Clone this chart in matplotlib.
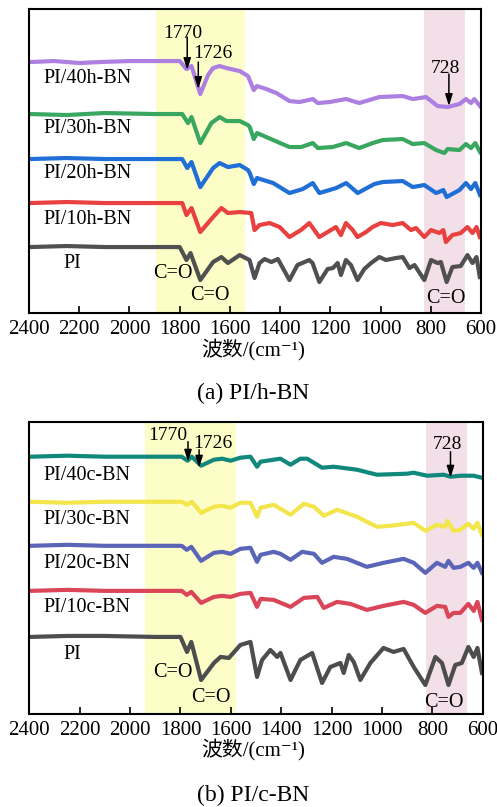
import matplotlib
matplotlib.use("Agg")
import matplotlib.pyplot as plt

plt.rcParams['font.family'] = ['Liberation Serif', 'Noto Sans CJK SC', 'DejaVu Serif']

# ---- spectra, panel (a) PI/h-BN (wavenumber, transmittance a.u.) ----
h40_wn = [2396, 2300, 2200, 2118, 2000, 1919, 1800, 1773, 1753, 1718, 1687, 1667, 1641, 1614, 1561, 1528, 1505,
          1492, 1455, 1415, 1363, 1323, 1270, 1250, 1204, 1137, 1085, 1005, 912, 872, 819, 773, 733, 686, 660,
          640, 627, 604]
h40_val = [251, 252, 250, 251, 252, 252, 252, 244, 247, 219, 238, 245, 247, 245, 242, 237, 223,
           227, 224, 220, 212, 211, 214, 210, 211, 214, 210, 216, 217, 214, 216, 207, 206, 209, 214,
           210, 214, 207]

h30_wn = [2396, 2250, 2100, 1900, 1790, 1767, 1753, 1718, 1674, 1641, 1614, 1561, 1528, 1521, 1505, 1492, 1428,
          1363, 1316, 1270, 1250, 1191, 1137, 1085, 1031, 992, 912, 872, 826, 779, 746, 733, 686, 660, 640, 623,
          604]
h30_val = [199, 198, 200, 199, 199, 190, 196, 170, 190, 196, 192, 192, 188, 186, 174, 180, 173,
           166, 166, 170, 165, 166, 170, 165, 170, 173, 174, 169, 170, 163, 160, 164, 163, 169, 165, 170,
           161]

h20_wn = [2396, 2250, 2100, 1900, 1790, 1770, 1753, 1718, 1667, 1641, 1608, 1561, 1528, 1521, 1505, 1492, 1428,
          1363, 1310, 1270, 1244, 1177, 1137, 1091, 1025, 992, 912, 872, 826, 779, 750, 737, 686, 660, 640, 623,
          604]
h20_val = [154, 155, 154, 154, 154, 145, 151, 126, 145, 150, 146, 148, 143, 140, 129, 135, 130,
           120, 124, 130, 120, 125, 130, 120, 129, 131, 132, 126, 128, 120, 123, 116, 123, 130, 124, 130,
           118]

h10_wn = [2396, 2250, 2100, 1900, 1790, 1773, 1753, 1718, 1667, 1634, 1608, 1561, 1515, 1502, 1482, 1442, 1402,
          1363, 1317, 1284, 1244, 1211, 1178, 1158, 1138, 1111, 1092, 1058, 1032, 999, 952, 912, 879, 859, 826,
          799, 766, 750, 740, 714, 681, 654, 634, 618, 605]
h10_val = [110, 111, 110, 110, 110, 98, 105, 81, 96, 105, 100, 101, 100, 83, 88, 90, 86,
           76, 83, 90, 76, 81, 86, 78, 90, 83, 76, 81, 86, 90, 88, 90, 83, 85, 76,
           83, 80, 83, 71, 78, 80, 86, 80, 86, 76]

pi_a_wn = [2396, 2250, 2100, 1900, 1800, 1773, 1757, 1718, 1667, 1634, 1608, 1561, 1522, 1502, 1482, 1462, 1435,
           1409, 1363, 1331, 1284, 1271, 1244, 1211, 1190, 1171, 1158, 1138, 1118, 1092, 1065, 1038, 1005, 979,
           939, 912, 885, 865, 826, 799, 773, 760, 737, 714, 681, 654, 634, 618, 605]
pi_a_val = [66, 67, 66, 66, 66, 53, 60, 33, 51, 56, 50, 58, 53, 35, 50, 54, 51,
            54, 33, 48, 53, 50, 31, 44, 45, 50, 38, 53, 48, 33, 44, 50, 56, 53,
            55, 56, 45, 48, 33, 53, 50, 51, 31, 46, 47, 58, 50, 56, 36]

# ---- spectra, panel (b) PI/c-BN ----
c40_wn = [2396, 2250, 2100, 1900, 1795, 1772, 1755, 1718, 1667, 1634, 1601, 1562, 1522, 1496, 1482, 1430, 1403,
          1363, 1324, 1297, 1238, 1192, 1099, 1020, 901, 874, 821, 755, 728, 689, 636, 603]
c40_val = [257, 258, 257, 257, 257, 253, 257, 248, 254, 255, 253, 256, 257, 247, 252, 254, 255,
           249, 255, 255, 246, 247, 244, 239, 240, 241, 238, 239, 237, 238, 238, 236]

c30_wn = [2396, 2250, 2100, 1900, 1795, 1774, 1755, 1718, 1667, 1634, 1601, 1562, 1522, 1496, 1482, 1430, 1363,
          1310, 1270, 1231, 1178, 1099, 1020, 967, 901, 874, 828, 782, 749, 740, 716, 689, 657, 636, 621, 603]
c30_val = [212, 211, 212, 212, 212, 209, 212, 201, 207, 208, 206, 211, 211, 197, 206, 209, 199,
           210, 207, 198, 204, 197, 187, 188, 190, 191, 183, 189, 187, 193, 183, 184, 190, 185, 191, 179]

c20_wn = [2396, 2250, 2100, 1900, 1795, 1775, 1757, 1718, 1667, 1634, 1601, 1562, 1522, 1496, 1482, 1430, 1403,
          1363, 1317, 1270, 1238, 1192, 1139, 1060, 994, 914, 874, 828, 782, 749, 736, 716, 689, 657, 636, 621,
          603]
c20_val = [168, 169, 168, 168, 168, 164, 167, 153, 161, 162, 160, 165, 166, 152, 159, 162, 160,
           154, 162, 160, 151, 157, 155, 147, 151, 155, 151, 141, 151, 147, 153, 146, 147, 151, 146, 151,
           141]

c10_wn = [2396, 2250, 2100, 1900, 1795, 1775, 1757, 1718, 1667, 1634, 1601, 1562, 1522, 1496, 1482, 1430, 1363,
          1310, 1257, 1231, 1178, 1125, 1060, 994, 914, 874, 828, 782, 749, 736, 716, 689, 657, 636, 621, 603]
c10_val = [123, 124, 123, 123, 123, 119, 122, 111, 117, 118, 117, 120, 121, 107, 115, 114, 107,
           116, 117, 106, 112, 110, 104, 108, 112, 109, 101, 108, 107, 97, 101, 101, 110, 103, 112, 94]

pi_b_wn = [2396, 2250, 2100, 1900, 1800, 1774, 1757, 1718, 1667, 1641, 1608, 1562, 1522, 1496, 1476, 1443, 1416,
           1403, 1363, 1324, 1277, 1238, 1205, 1165, 1152, 1132, 1112, 1086, 1046, 994, 954, 914, 874, 828, 788,
           762, 736, 709, 683, 657, 636, 621, 603]
pi_b_val = [77, 78, 78, 77, 77, 62, 72, 34, 51, 57, 56, 69, 72, 37, 54, 64, 57,
            61, 34, 54, 61, 31, 47, 51, 41, 59, 52, 34, 51, 66, 62, 65, 47, 29, 57,
            51, 29, 49, 51, 67, 57, 66, 41]

# sample names (text position: wavenumber, height)
names_a = ['PI/40h-BN', 'PI/30h-BN', 'PI/20h-BN', 'PI/10h-BN', 'PI']
names_a_pos = [(2344, 235), (2344, 185), (2344, 140), (2344, 94), (2264, 50)]
names_b = ['PI/40c-BN', 'PI/30c-BN', 'PI/20c-BN', 'PI/10c-BN', 'PI']
names_b_pos = [(2344, 238), (2344, 194), (2344, 150), (2344, 106), (2264, 59)]

peaks = [1770, 1726, 728]
yellow_a = (1895, 1540)
yellow_b = (1941, 1580)
pink_band = (826, 663)
xticks = [2400, 2200, 2000, 1800, 1600, 1400, 1200, 1000, 800, 600]

fig = plt.figure(figsize=(4.97, 8.07), dpi=100)
ax1 = fig.add_axes([0.0584, 0.6121, 0.9095, 0.3767])
ax2 = fig.add_axes([0.0590, 0.1152, 0.9123, 0.3623])


def style_axis(ax, ymax):
    ax.set_xlim(2400, 600)
    ax.set_ylim(0, ymax)
    ax.set_xticks(xticks)
    ax.tick_params(axis='x', direction='in', length=5, width=1.2, labelsize=15, pad=5)
    ax.tick_params(axis='y', left=False, labelleft=False)
    for sp in ax.spines.values():
        sp.set_linewidth(1.5)


def arrow(ax, x, tail, tip):
    ax.annotate('', xy=(x, tip), xytext=(x, tail),
                arrowprops=dict(arrowstyle='-|>,head_length=0.7,head_width=0.22',
                                color='black', lw=1.1, shrinkA=0, shrinkB=0))


# panel (a)
ax1.axvspan(*yellow_a, color='#fdfdc8', lw=0)
ax1.axvspan(*pink_band, color='#f3dfe7', lw=0)
ax1.plot(pi_a_wn, pi_a_val, color='#505050', lw=3)
ax1.plot(h10_wn, h10_val, color='#e8413f', lw=3)
ax1.plot(h20_wn, h20_val, color='#1f6fd6', lw=3)
ax1.plot(h30_wn, h30_val, color='#3aa760', lw=3)
ax1.plot(h40_wn, h40_val, color='#ad7fe0', lw=3)
style_axis(ax1, 304)
for name, (x, y) in zip(names_a, names_a_pos):
    ax1.text(x, y, name, fontsize=14.5, ha='left', va='center')
ax1.text(1788, 280, str(peaks[0]), fontsize=14, ha='center', va='center')
ax1.text(1668, 260, str(peaks[1]), fontsize=14, ha='center', va='center')
ax1.text(742, 245, str(peaks[2]), fontsize=14, ha='center', va='center')
arrow(ax1, peaks[0], 276, 243)
arrow(ax1, peaks[1], 251, 224)
arrow(ax1, peaks[2], 239, 207)
ax1.text(1829, 40, 'C=O', fontsize=14.5, ha='center', va='center')
ax1.text(1681, 18, 'C=O', fontsize=14.5, ha='center', va='center')
ax1.text(741, 15, 'C=O', fontsize=14.5, ha='center', va='center')

# panel (b)
ax2.axvspan(*yellow_b, color='#fdfdc8', lw=0)
ax2.axvspan(*pink_band, color='#f3dfe7', lw=0)
ax2.plot(pi_b_wn, pi_b_val, color='#4d4d4d', lw=3)
ax2.plot(c10_wn, c10_val, color='#da4658', lw=3)
ax2.plot(c20_wn, c20_val, color='#5b65b8', lw=3)
ax2.plot(c30_wn, c30_val, color='#f3e54c', lw=3)
ax2.plot(c40_wn, c40_val, color='#10897c', lw=3)
style_axis(ax2, 292)
for name, (x, y) in zip(names_b, names_b_pos):
    ax2.text(x, y, name, fontsize=14.5, ha='left', va='center')
ax2.text(1849, 278, str(peaks[0]), fontsize=14, ha='center', va='center')
ax2.text(1670, 270, str(peaks[1]), fontsize=14, ha='center', va='center')
ax2.text(739, 269, str(peaks[2]), fontsize=14, ha='center', va='center')
arrow(ax2, peaks[0], 272, 252)
arrow(ax2, peaks[1], 264, 246)
arrow(ax2, peaks[2], 262, 236)
ax2.text(1829, 41, 'C=O', fontsize=14.5, ha='center', va='center')
ax2.text(1679, 17, 'C=O', fontsize=14.5, ha='center', va='center')
ax2.text(753, 12, 'C=O', fontsize=14.5, ha='center', va='center')

# axis titles and captions
fig.text(0.51, 0.566, '波数/(cm⁻¹)', fontsize=15, ha='center', va='center')
fig.text(0.51, 0.513, '(a) PI/h-BN', fontsize=17, ha='center', va='center')
fig.text(0.51, 0.0706, '波数/(cm⁻¹)', fontsize=15, ha='center', va='center')
fig.text(0.51, 0.0149, '(b) PI/c-BN', fontsize=17, ha='center', va='center')

fig.savefig('out.png', dpi=100)
